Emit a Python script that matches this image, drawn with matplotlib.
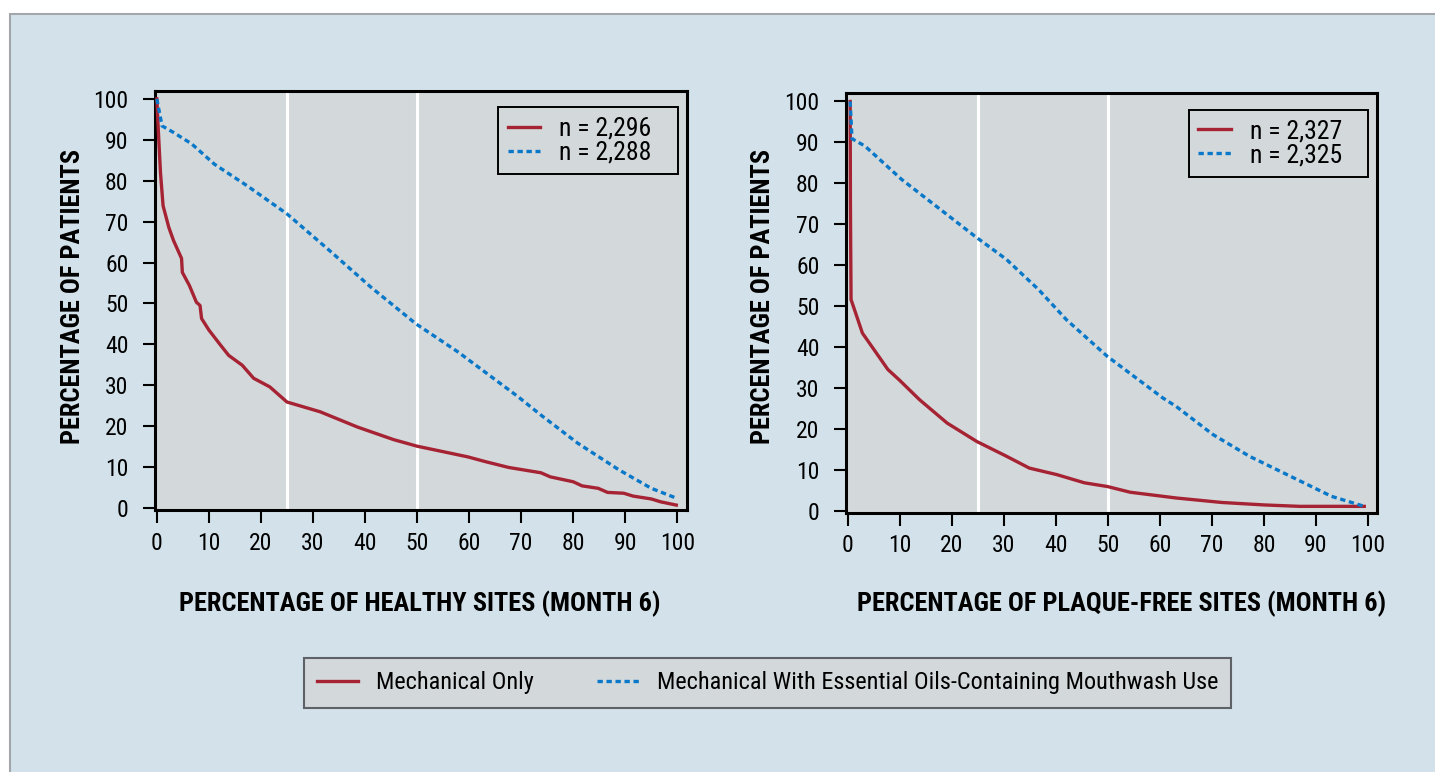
import matplotlib
matplotlib.use("Agg")
import matplotlib.pyplot as plt
from matplotlib import font_manager
from matplotlib.patches import Rectangle
from matplotlib.lines import Line2D

# healthy sites panel
healthy_mech_x = [0, 0.3, 0.7, 1.2, 2.3, 3.2, 4.75, 4.9, 6.25, 7.6, 8.3, 8.6, 10, 12, 13.8, 16.4,
                  18.6, 21.7, 25, 31.4, 38.5, 45.5, 50, 59.7, 63.2, 67.6, 73.8, 75.6, 80, 81.7,
                  84.8, 86.6, 89.7, 91.5, 95, 96.8, 99.8]
healthy_mech_y = [100, 92, 82, 73.9, 68.6, 65.4, 61, 57.6, 54.4, 50.3, 49.5, 46.3, 43.5, 40.2, 37.3, 34.9,
                  31.7, 29.6, 25.9, 23.5, 19.8, 16.7, 15.1, 12.5, 11.3, 9.9, 8.6, 7.6, 6.4, 5.4,
                  4.8, 3.8, 3.6, 2.9, 2.2, 1.5, 0.7]
healthy_eo_x = [0, 1, 3.2, 6.7, 11.1, 17.3, 25, 33.2, 41.1, 49.8, 57.9, 69.4, 73.8, 80.9, 88.8, 95, 99.8]
healthy_eo_y = [100, 93.4, 91.8, 89, 84, 78.8, 71.9, 62.9, 54, 45, 38.1, 27.2, 22.7, 15.8, 9.3, 4.8, 2.4]

# plaque-free sites panel
plaque_mech_x = [0.45, 0.5, 0.62, 1.5, 2.8, 5.5, 7.7, 9.85, 13.8, 19.1, 24.8, 30.5, 34.9, 40.2, 45.5,
                 49.9, 54.3, 63.1, 71.9, 80, 86.9, 99.3]
plaque_mech_y = [100, 75, 51.6, 48.3, 43.4, 38.5, 34.5, 32, 27.1, 21.4, 16.9, 13.3, 10.4, 8.8, 6.8,
                 5.9, 4.5, 3.1, 2.0, 1.4, 1.05, 1.05]
plaque_eo_x = [0.45, 0.8, 3.3, 10.3, 24.4, 30.5, 36.7, 42, 49.9, 60.5, 63.1, 70.2, 77.2, 85.1, 93, 99.3]
plaque_eo_y = [100, 90.9, 89.1, 81, 67.1, 61.4, 54, 46.7, 37.7, 27.6, 25.5, 18.6, 13.3, 8.4, 3.5, 1.05]

n_labels_left = ["n = 2,296", "n = 2,288"]
n_labels_right = ["n = 2,327", "n = 2,325"]
group_names = ["Mechanical Only", "Mechanical With Essential Oils-Containing Mouthwash Use"]
xlabels = ["PERCENTAGE OF HEALTHY SITES (MONTH 6)", "PERCENTAGE OF PLAQUE-FREE SITES (MONTH 6)"]
ylabel = "PERCENTAGE OF PATIENTS"
ticks = [0, 10, 20, 30, 40, 50, 60, 70, 80, 90, 100]

RED = "#a62334"
BLUE = "#0a78c8"
OUTER = "#d3e2ea"
FACE = "#d3d8db"

# narrow face if there is one, else plain sans
names = {f.name for f in font_manager.fontManager.ttflist}
prefs = ["Roboto Condensed", "Liberation Sans Narrow", "Archivo Narrow", "DejaVu Sans Condensed", "Roboto"]
chosen = next((p for p in prefs if p in names), "DejaVu Sans")
plt.rcParams['font.family'] = [chosen, 'DejaVu Sans']

W, H = 1435, 772
fig = plt.figure(figsize=(W / 100, H / 100), dpi=100)
fig.patch.set_facecolor("white")
fig.patches.append(Rectangle((10 / W, -0.01), 1.0, 1 - 14 / H + 0.01, transform=fig.transFigure,
                             facecolor=OUTER, edgecolor="#a3a7aa", linewidth=1.5, zorder=-5))


def px_axes(x0, y0, x1, y1):
    return fig.add_axes([x0 / W, 1 - y1 / H, (x1 - x0) / W, (y1 - y0) / H])


ax1 = px_axes(155, 90.7, 686.7, 510)
ax2 = px_axes(846, 93.3, 1377.3, 512.7)

panels = [
    (ax1, healthy_mech_x, healthy_mech_y, healthy_eo_x, healthy_eo_y, n_labels_left),
    (ax2, plaque_mech_x, plaque_mech_y, plaque_eo_x, plaque_eo_y, n_labels_right),
]

for ax, mx, my, ex, ey, nl in panels:
    ax.set_facecolor(FACE)
    for v in (25, 50):
        ax.axvline(v, color="white", lw=2.2, zorder=1)
    ax.plot(mx, my, color=RED, lw=2.4, label=nl[0], zorder=3, solid_joinstyle="round")
    ax.plot(ex, ey, color=BLUE, lw=2.4, dashes=(1.6, 1.1), label=nl[1], zorder=4)
    ax.set_xlim(-0.35, 101.8)
    ax.set_ylim(-0.5, 102)
    ax.set_xticks(ticks)
    ax.set_yticks(ticks)
    for s in ax.spines.values():
        s.set_linewidth(2.2)
        s.set_color("black")
    ax.tick_params(axis="both", direction="out", length=9, width=1.5, labelsize=17, color="black")
    ax.tick_params(axis="x", pad=6.5)
    ax.tick_params(axis="y", pad=10)
    # frame stretched to the reference box width, entries left-aligned
    leg = ax.legend(loc="upper left", bbox_to_anchor=(0.646, 0.0, 0.337, 0.96), mode="expand",
                    fontsize=18.5, frameon=True, fancybox=False, handlelength=1.25, handletextpad=0.75,
                    borderpad=0.36, labelspacing=0.0, borderaxespad=0)
    leg.get_frame().set_edgecolor("black")
    leg.get_frame().set_linewidth(1.4)
    leg.get_frame().set_facecolor(FACE)
    leg.get_frame().set_alpha(1)

fig.text(420 / W, 1 - 604 / H, xlabels[0], ha="center", va="center", fontsize=19, fontweight="bold")
fig.text(1122 / W, 1 - 604 / H, xlabels[1], ha="center", va="center", fontsize=19, fontweight="bold")
fig.text(73 / W, 1 - 296 / H, ylabel, ha="center", va="center", rotation=90, fontsize=19, fontweight="bold")
fig.text(763 / W, 1 - 296 / H, ylabel, ha="center", va="center", rotation=90, fontsize=19, fontweight="bold")

handles = [Line2D([], [], color=RED, lw=2.4),
           Line2D([], [], color=BLUE, lw=2.4, dashes=(1.6, 1.1))]
bleg = fig.legend(handles, group_names, loc="center", bbox_to_anchor=(767.5 / W, 1 - 683 / H), ncol=2,
                  fontsize=17.5, frameon=True, fancybox=False, handlelength=1.7, handletextpad=0.74,
                  columnspacing=2.6, borderpad=0.55)
bleg.get_frame().set_edgecolor("#5e6266")
bleg.get_frame().set_linewidth(1.5)
bleg.get_frame().set_facecolor(FACE)
bleg.get_frame().set_alpha(1)

fig.savefig("out.png", dpi=100)
